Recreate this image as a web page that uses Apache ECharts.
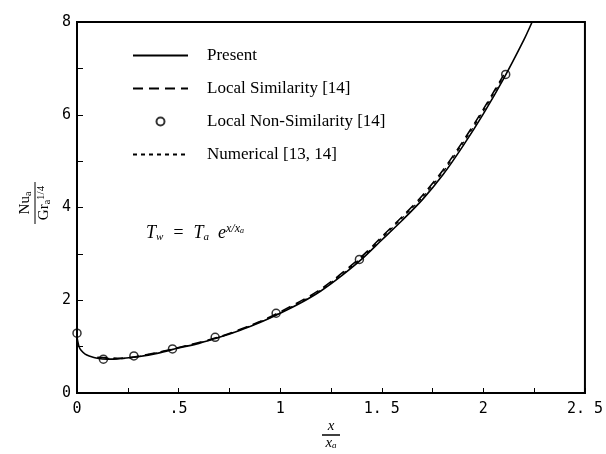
<!DOCTYPE html>
<html>
<head>
<meta charset="utf-8">
<script src="https://cdn.jsdelivr.net/npm/echarts@6/dist/echarts.min.js"></script>
<style>html,body{margin:0;padding:0;background:#fff;}#c{width:606px;height:454px;}</style>
</head>
<body>
<div id="c"></div>
<script>
// ---- data ----
const seriesNames = ['Present', 'Local Similarity [14]', 'Local Non-Similarity [14]', 'Numerical [13, 14]'];
const presentX = [0, 0.01, 0.02, 0.04, 0.06, 0.1, 0.15, 0.2, 0.3, 0.4, 0.5, 0.6, 0.7, 0.8, 0.9, 1.0, 1.1, 1.2, 1.3, 1.4, 1.5, 1.6, 1.7, 1.8, 1.9, 2.0, 2.1, 2.2, 2.24];
const presentY = [1.2, 1.0, 0.92, 0.84, 0.8, 0.75, 0.73, 0.735, 0.78, 0.86, 0.97, 1.07, 1.2, 1.35, 1.52, 1.72, 1.94, 2.2, 2.52, 2.88, 3.3, 3.72, 4.17, 4.7, 5.33, 6.02, 6.78, 7.62, 8.0];
const localSimX = [0.1, 0.2, 0.3, 0.5, 0.7, 0.9, 1.0, 1.2, 1.4, 1.5, 1.6, 1.7, 1.8, 1.9, 2.0, 2.1];
const localSimY = [0.77, 0.75, 0.79, 0.98, 1.21, 1.54, 1.75, 2.24, 2.94, 3.37, 3.8, 4.26, 4.8, 5.43, 6.12, 6.86];
const nonSimX = [0, 0.13, 0.28, 0.47, 0.68, 0.98, 1.39, 2.11];
const nonSimY = [1.29, 0.73, 0.80, 0.95, 1.2, 1.72, 2.88, 6.87];
const numericalX = [0.1, 0.2, 0.3, 0.5, 0.7, 0.9, 1.0, 1.2, 1.4, 1.5, 1.6, 1.7, 1.8, 1.9, 2.0, 2.1];
const numericalY = [0.76, 0.74, 0.785, 0.975, 1.2, 1.53, 1.73, 2.22, 2.91, 3.34, 3.77, 4.22, 4.76, 5.39, 6.08, 6.83];
const xTickValues = [0, 0.5, 1, 1.5, 2, 2.5];
const xTickLabels = ['0', '.5', '1', '1. 5', '2', '2. 5'];
const yTickValues = [0, 2, 4, 6, 8];
const yTickLabels = ['0', '2', '4', '6', '8'];

const zip = (xs, ys) => xs.map((x, i) => [x, ys[i]]);
const labelFor = (vals, labs) => v => {
  const i = vals.findIndex(t => Math.abs(t - v) < 1e-6);
  return i >= 0 ? labs[i] : '';
};

const chart = echarts.init(document.getElementById('c'), null, {renderer: 'canvas'});
const tickFont = {fontFamily: 'DejaVu Sans Mono', fontSize: 15, color: '#000'};
const serif = 'Liberation Serif';
const hideSym = {color: 'rgba(0,0,0,0)', borderColor: 'rgba(0,0,0,0)', borderWidth: 0};

chart.setOption({
  animation: false,
  backgroundColor: '#fff',
  grid: {left: 77, right: 16, top: 22, bottom: 61, show: true, borderColor: '#000', borderWidth: 2},
  xAxis: {
    type: 'value', min: 0, max: 2.5, interval: 0.25,
    axisLine: {show: true, onZero: false, lineStyle: {color: '#000', width: 2}},
    axisTick: {show: true, inside: true, length: 5, lineStyle: {color: '#000', width: 1}},
    splitLine: {show: false},
    axisLabel: Object.assign({margin: 9, showMinLabel: true, showMaxLabel: true, formatter: labelFor(xTickValues, xTickLabels)}, tickFont)
  },
  yAxis: {
    type: 'value', min: 0, max: 8, interval: 1,
    axisLine: {show: true, onZero: false, lineStyle: {color: '#000', width: 2}},
    axisTick: {show: true, inside: true, length: 6, lineStyle: {color: '#000', width: 1}},
    splitLine: {show: false},
    axisLabel: Object.assign({margin: 6, showMinLabel: true, showMaxLabel: true, formatter: labelFor(yTickValues, yTickLabels)}, tickFont)
  },
  legend: {
    orient: 'vertical', left: 132, top: 47, padding: 0, itemWidth: 55, itemHeight: 8, itemGap: 16,
    data: [
      {name: seriesNames[0], icon: 'inherit', itemStyle: hideSym},
      {name: seriesNames[1], icon: 'inherit', itemStyle: hideSym},
      {name: seriesNames[2]},
      {name: seriesNames[3], icon: 'inherit', itemStyle: hideSym}
    ],
    textStyle: {fontFamily: serif, fontSize: 17, color: '#000', padding: [0, 0, 0, 14]},
    selectedMode: false
  },
  series: [
    {name: seriesNames[0], type: 'line', data: zip(presentX, presentY), smooth: 0.3, showSymbol: false, symbol: 'none',
     lineStyle: {color: '#000', width: 1.6, type: 'solid'}, itemStyle: {color: '#000'}, z: 5},
    {name: seriesNames[1], type: 'line', data: zip(localSimX, localSimY), smooth: 0.3, showSymbol: false, symbol: 'none',
     lineStyle: {color: '#000', width: 1.6, type: [10, 6]}, itemStyle: {color: '#000'}, z: 4},
    {name: seriesNames[2], type: 'scatter', data: zip(nonSimX, nonSimY), symbol: 'circle', symbolSize: 8,
     itemStyle: {color: 'rgba(255,255,255,0)', borderColor: '#000', borderWidth: 1.5}, z: 6},
    {name: seriesNames[3], type: 'line', data: zip(numericalX, numericalY), smooth: 0.3, showSymbol: false, symbol: 'none',
     lineStyle: {color: '#000', width: 1.2, type: [4, 4]}, itemStyle: {color: '#000'}, z: 3}
  ],
  graphic: [
    {
      type: 'group', x: 35, y: 203, rotation: Math.PI / 2,
      children: [
        {type: 'text', x: 0, y: -2, style: {text: 'Nu{s|a}', rich: {s: {fontSize: 10, fontFamily: serif, padding: [6, 0, 0, 0]}},
          font: '15px "Liberation Serif"', fill: '#000', align: 'center', verticalAlign: 'bottom'}},
        {type: 'line', shape: {x1: -21, y1: 0, x2: 21, y2: 0}, style: {stroke: '#000', lineWidth: 1}},
        {type: 'text', x: 0, y: 1, style: {text: 'Gr{s|a}{p|1/4}', rich: {s: {fontSize: 10, fontFamily: serif, padding: [6, 0, 0, 0]}, p: {fontSize: 11, fontFamily: serif, padding: [0, 0, 6, 0]}},
          font: '15px "Liberation Serif"', fill: '#000', align: 'center', verticalAlign: 'top'}}
      ]
    },
    {
      type: 'group', x: 331, y: 435,
      children: [
        {type: 'text', x: 0, y: -1, style: {text: 'x', font: 'italic 15px "Liberation Serif"', fill: '#000', align: 'center', verticalAlign: 'bottom'}},
        {type: 'line', shape: {x1: -9, y1: 0, x2: 9, y2: 0}, style: {stroke: '#000', lineWidth: 1.5}},
        {type: 'text', x: 0, y: 1, style: {text: 'x{s|a}', rich: {s: {fontSize: 9, fontStyle: 'italic', fontFamily: serif, padding: [5, 0, 0, 0]}},
          font: 'italic 15px "Liberation Serif"', fill: '#000', align: 'center', verticalAlign: 'top'}}
      ]
    },
    {
      type: 'text', x: 146, y: 233,
      style: {
        text: 'T{s|w}  =  T{s|a}  e{p|x/x}{q|a}',
        rich: {
          s: {fontSize: 11, fontStyle: 'italic', fontFamily: serif, padding: [8, 0, 0, 0]},
          p: {fontSize: 12, fontStyle: 'italic', fontFamily: serif, padding: [0, 0, 9, 0]},
          q: {fontSize: 8, fontStyle: 'italic', fontFamily: serif, padding: [0, 0, 4, 0]}
        },
        font: 'italic 18px "Liberation Serif"', fill: '#000', align: 'left', verticalAlign: 'middle'
      }
    }
  ]
});
</script>
</body>
</html>
